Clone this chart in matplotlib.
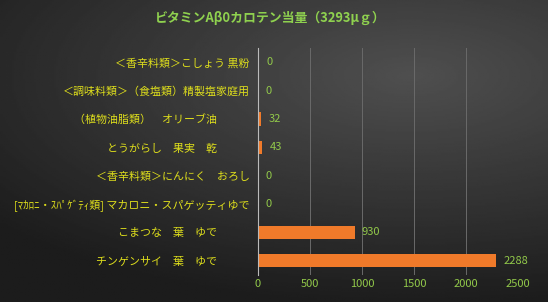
import matplotlib.pyplot as plt
import numpy as np

plt.rcParams['font.family'] = ['Noto Sans CJK JP', 'DejaVu Sans']

# data (top to bottom as shown)
foods = ['＜香辛料類＞こしょう 黒粉',
         '＜調味料類＞（食塩類）精製塩家庭用',
         '（植物油脂類）　オリーブ油　　　',
         'とうがらし　果実　乾　　　',
         '＜香辛料類＞にんにく　おろし',
         '[ﾏｶﾛﾆ・ｽﾊﾟｹﾞﾃｨ類] マカロニ・スパゲッティゆで',
         'こまつな　葉　ゆで　　　',
         'チンゲンサイ　葉　ゆで　　　']
values = [12, 0, 32, 43, 6, 0, 930, 2288]
value_labels = ['0', '0', '32', '43', '0', '0', '930', '2288']
ticks = [0, 500, 1000, 1500, 2000, 2500]

fig = plt.figure(figsize=(5.48, 3.02), dpi=100)

# gradient background
bg = fig.add_axes([0, 0, 1, 1])
xx, yy = np.meshgrid(np.linspace(0, 1, 300), np.linspace(0, 1, 200))
shade = 0.11 + 0.2 * np.clip(1 - np.hypot((xx - 0.75) * 1.0, (yy - 0.25) * 1.3), 0, 1)
bg.imshow(shade, cmap='gray', vmin=0, vmax=1, aspect='auto', extent=[0, 1, 0, 1])
bg.axis('off')

ax = fig.add_axes([258 / 548, 27 / 302, 260 / 548, 227 / 302])
ax.patch.set_alpha(0)
y = np.arange(len(foods))
ax.barh(y, values, height=0.47, color='#f07a2a', zorder=3)
ax.set_xlim(0, 2500)
ax.set_ylim(len(foods) - 0.5, -0.5)
ax.set_xticks(ticks)
ax.set_yticks(y)
ax.set_yticklabels(foods, color='#dede1c', fontsize=7.9)
ax.tick_params(axis='x', colors='#92c94a', labelsize=8, length=0, pad=3)
ax.tick_params(axis='y', length=0, pad=6)
ax.grid(axis='x', color='#6a6a6a', linewidth=0.7, zorder=0)
for s in ['top', 'right', 'bottom']:
    ax.spines[s].set_visible(False)
ax.spines['left'].set_color('#bbbbbb')
ax.spines['left'].set_linewidth(0.8)
ax.spines['left'].set_zorder(4)

for yi, v, t in zip(y, values, value_labels):
    ax.text(v + 70, yi, t, va='center', ha='left', color='#92c94a', fontsize=8)

fig.text(270 / 548, 1 - 18 / 302, 'ビタミンAβ0カロテン当量（3293μｇ）', ha='center', va='center',
         color='#8fd14f', fontsize=9.3, fontweight='bold')

fig.savefig('out.png', dpi=100)
